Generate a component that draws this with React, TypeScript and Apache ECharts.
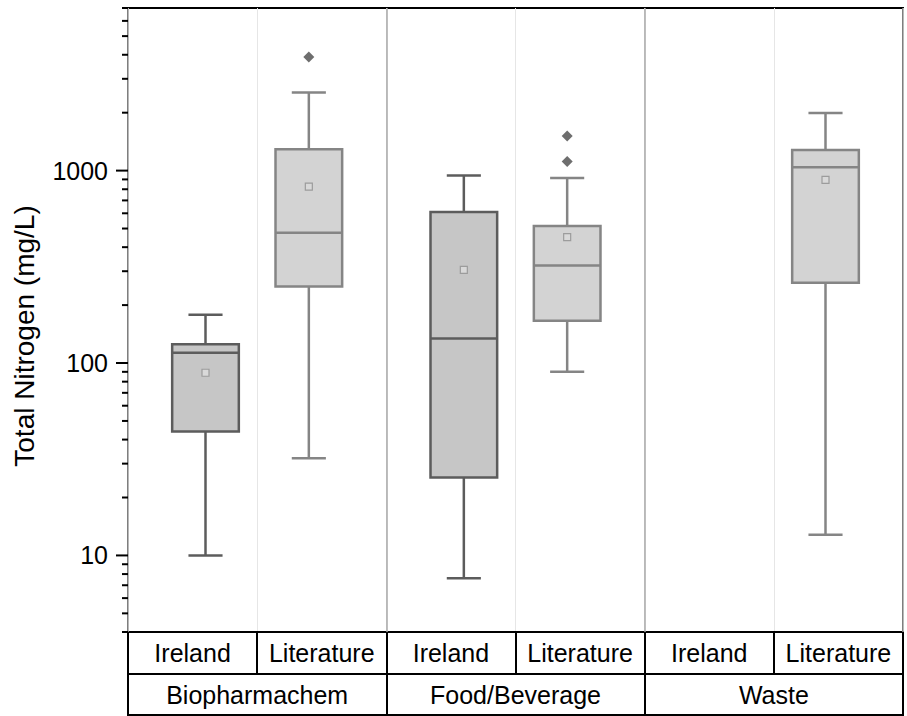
import React, { useEffect, useRef } from "react";
import * as echarts from "echarts";

const groups = ["Biopharmachem", "Food/Beverage", "Waste"];
const subCategories = ["Ireland", "Literature", "Ireland", "Literature", "Ireland", "Literature"];
// [groupIndex, side(-1 Ireland, +1 Literature), low, q1, median, q3, high, mean]
const boxData = [
  [0, -1, 10, 44, 113, 125, 178, 89],
  [0, 1, 32, 250, 476, 1290, 2550, 826],
  [1, -1, 7.6, 25.4, 134, 610, 942, 305],
  [1, 1, 90, 166, 321, 516, 916, 451],
  [2, 1, 12.8, 261, 1041, 1281, 1990, 895],
];
// [groupIndex, side, value]
const outliers = [
  [0, 1, 3900],
  [1, 1, 1514],
  [1, 1, 1116],
];
const majorTicks = [10, 100, 1000];
const minorTicks = [4, 5, 6, 7, 8, 9, 20, 30, 40, 50, 60, 70, 80, 90, 200, 300, 400, 500, 600, 700, 800, 900, 2000, 3000, 4000, 5000, 6000, 7000];
const yTitle = "Total Nitrogen (mg/L)";

const FONT = "'Liberation Sans', Arial, sans-serif";

export default function App() {
  const ref = useRef<HTMLDivElement>(null);
  useEffect(() => {
    if (!ref.current) return;
    const chart = echarts.init(ref.current, null, { renderer: "svg" });
    const tickData = [
      ...majorTicks.map((v) => [0, v, 12]),
      ...minorTicks.map((v) => [0, v, 6]),
    ];
    const styleFor = (side: number) =>
      side < 0
        ? { fill: "#c6c6c6", stroke: "#5c5c5c" }
        : { fill: "#d3d3d3", stroke: "#858585" };

    const option: any = {
      animation: false,
      textStyle: { fontFamily: FONT },
      grid: {
        left: 128,
        right: 4,
        top: 8,
        bottom: 84,
        show: true,
        borderColor: "#000",
        borderWidth: 2,
        backgroundColor: "transparent",
      },
      xAxis: [
        {
          type: "category",
          data: subCategories,
          position: "bottom",
          offset: 0,
          z: 1,
          axisLine: { show: true, lineStyle: { color: "#000", width: 2 } },
          axisTick: { show: true, length: 42, interval: 0, lineStyle: { color: "#000", width: 2 } },
          axisLabel: { interval: 0, fontSize: 25, color: "#000", margin: 8, fontFamily: FONT },
          splitLine: { show: true, interval: 0, lineStyle: { color: "#e6e6e6", width: 1 } },
        },
        {
          type: "category",
          data: groups,
          position: "bottom",
          offset: 42,
          z: 2,
          axisLine: { show: true, lineStyle: { color: "#000", width: 2 } },
          axisTick: { show: true, length: 42, interval: 0, lineStyle: { color: "#000", width: 2 } },
          axisLabel: { interval: 0, fontSize: 25, color: "#000", margin: 8, fontFamily: FONT },
          splitLine: { show: true, interval: 0, lineStyle: { color: "#a8a8a8", width: 1.5 } },
        },
        {
          type: "category",
          data: groups,
          position: "bottom",
          offset: 83,
          axisLine: { show: true, lineStyle: { color: "#000", width: 2 } },
          axisTick: { show: false },
          axisLabel: { show: false },
          splitLine: { show: false },
        },
      ],
      yAxis: {
        type: "log",
        logBase: 10,
        min: 4,
        max: 7000,
        axisLine: { show: true, lineStyle: { color: "#000", width: 2 } },
        axisTick: { show: false },
        splitLine: { show: false },
        axisLabel: {
          fontSize: 25,
          color: "#000",
          margin: 20,
          fontFamily: FONT,
          formatter: (v: number) => {
            const l = Math.log10(v);
            return Math.abs(l - Math.round(l)) < 1e-6 ? String(Math.round(v)) : "";
          },
        },
      },
      graphic: [
        {
          type: "text",
          x: 24,
          y: 336,
          rotation: Math.PI / 2,
          style: {
            text: yTitle,
            fontSize: 28,
            fontFamily: FONT,
            fill: "#000",
            textAlign: "center",
            textVerticalAlign: "middle",
          },
        },
      ],
      series: [
        {
          type: "custom",
          name: "ticks",
          xAxisIndex: 0,
          clip: false,
          z: 10,
          silent: true,
          data: tickData,
          encode: { x: 0, y: 1 },
          renderItem: (params: any, api: any) => {
            const y = api.coord([0, api.value(1)])[1];
            const x0 = params.coordSys.x;
            const len = api.value(2);
            return {
              type: "line",
              shape: { x1: x0 - len, y1: y, x2: x0, y2: y },
              style: { stroke: "#000", lineWidth: 2 },
            };
          },
        },
        {
          type: "custom",
          name: "boxes",
          xAxisIndex: 1,
          z: 5,
          data: boxData,
          encode: { x: 0, y: [2, 3, 4, 5, 6, 7] },
          renderItem: (params: any, api: any) => {
            const g = api.value(0);
            const side = api.value(1);
            const yOf = (i: number) => api.coord([g, api.value(i)])[1];
            const c0 = api.coord([g, api.value(4)]);
            const band = api.coord([g + 1, api.value(4)])[0] - c0[0];
            const cx = c0[0] + side * band * 0.2;
            const bw = band * 0.258;
            const cw = band * 0.132;
            const yLow = yOf(2), yQ1 = yOf(3), yMed = yOf(4), yQ3 = yOf(5), yHigh = yOf(6), yMean = yOf(7);
            const st = styleFor(side);
            const ls = { stroke: st.stroke, lineWidth: 2.5 };
            return {
              type: "group",
              children: [
                { type: "line", shape: { x1: cx, y1: yQ1, x2: cx, y2: yLow }, style: ls },
                { type: "line", shape: { x1: cx, y1: yQ3, x2: cx, y2: yHigh }, style: ls },
                { type: "line", shape: { x1: cx - cw / 2, y1: yLow, x2: cx + cw / 2, y2: yLow }, style: ls },
                { type: "line", shape: { x1: cx - cw / 2, y1: yHigh, x2: cx + cw / 2, y2: yHigh }, style: ls },
                {
                  type: "rect",
                  shape: { x: cx - bw / 2, y: yQ3, width: bw, height: yQ1 - yQ3 },
                  style: { fill: st.fill, stroke: st.stroke, lineWidth: 2.5 },
                },
                { type: "line", shape: { x1: cx - bw / 2, y1: yMed, x2: cx + bw / 2, y2: yMed }, style: ls },
                {
                  type: "rect",
                  shape: { x: cx - 3.5, y: yMean - 3.5, width: 7, height: 7 },
                  style: { fill: "#d9d9d9", stroke: "#9c9c9c", lineWidth: 1.2 },
                },
              ],
            };
          },
        },
        {
          type: "custom",
          name: "outliers",
          xAxisIndex: 1,
          z: 6,
          data: outliers,
          encode: { x: 0, y: 2 },
          renderItem: (params: any, api: any) => {
            const g = api.value(0);
            const side = api.value(1);
            const c0 = api.coord([g, api.value(2)]);
            const band = api.coord([g + 1, api.value(2)])[0] - c0[0];
            const cx = c0[0] + side * band * 0.2;
            const cy = c0[1];
            const r = 5.5;
            return {
              type: "polygon",
              shape: { points: [[cx, cy - r], [cx + r, cy], [cx, cy + r], [cx - r, cy]] },
              style: { fill: "#6e6e6e" },
            };
          },
        },
      ],
    };
    chart.setOption(option);
    return () => chart.dispose();
  }, []);
  return (
    <div
      ref={ref}
      style={{ position: "fixed", left: 0, top: 0, width: 907, height: 716, background: "#fff" }}
    />
  );
}
